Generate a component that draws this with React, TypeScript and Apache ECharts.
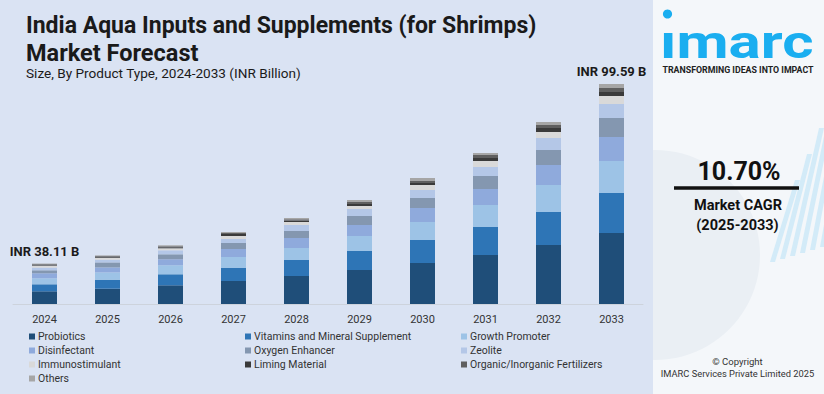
import React, { useEffect, useRef } from "react";
import * as echarts from "echarts";

const years = ["2024", "2025", "2026", "2027", "2028", "2029", "2030", "2031", "2032", "2033"];

const seriesNames = [
  "Probiotics",
  "Vitamins and Mineral Supplement",
  "Growth Promoter",
  "Disinfectant",
  "Oxygen Enhancer",
  "Zeolite",
  "Immunostimulant",
  "Liming Material",
  "Organic/Inorganic Fertilizers",
  "Others",
];

const seriesColors = [
  "#1f4e79",
  "#2e75b6",
  "#9dc3e6",
  "#8faadc",
  "#8497b0",
  "#b4c7e7",
  "#d9d9d9",
  "#3a3a3a",
  "#5f5f5f",
  "#a6a6a6",
];

const probiotics = [5.75, 6.93, 8.47, 10.41, 12.68, 15.39, 18.56, 22.18, 26.71, 32.14];
const vitamins = [3.17, 4.07, 4.98, 5.88, 7.24, 8.6, 10.41, 12.68, 14.94, 18.11];
const growthPromoter = [2.72, 3.3, 4.07, 4.98, 5.43, 6.79, 8.15, 9.96, 12.22, 14.49];
const disinfectant = [2.26, 2.26, 2.72, 3.62, 4.53, 4.98, 6.34, 7.24, 9.05, 10.86];
const oxygenEnhancer = [1.36, 2.26, 2.26, 2.72, 3.17, 4.07, 4.53, 5.88, 6.79, 8.6];
const zeolite = [1.22, 1.22, 1.81, 1.81, 2.72, 3.17, 3.62, 4.07, 5.43, 6.34];
const immunostimulant = [0.91, 0.91, 0.91, 1.36, 1.36, 1.36, 2.26, 2.72, 2.72, 3.62];
const limingMaterial = [0.32, 0.36, 0.45, 0.91, 0.63, 0.91, 0.91, 1.36, 1.81, 1.81];
const fertilizers = [0.32, 0.36, 0.45, 0.45, 0.59, 0.91, 0.91, 1.36, 1.36, 1.81];
const others = [0.27, 0.32, 0.45, 0.45, 0.59, 0.91, 1.36, 0.91, 1.36, 1.81];

const totalLabels = ["INR 38.11 B", "", "", "", "", "", "", "", "", "INR 99.59 B"];

const seriesData = [
  probiotics,
  vitamins,
  growthPromoter,
  disinfectant,
  oxygenEnhancer,
  zeolite,
  immunostimulant,
  limingMaterial,
  fertilizers,
  others,
];

const legendColumns = [
  ["Probiotics", "Disinfectant", "Immunostimulant", "Others"],
  ["Vitamins and Mineral Supplement", "Oxygen Enhancer", "Liming Material"],
  ["Growth Promoter", "Zeolite", "Organic/Inorganic Fertilizers"],
];

const title1 = "India Aqua Inputs and Supplements (for Shrimps)";
const title2 = "Market Forecast";
const subtitle = "Size, By Product Type, 2024-2033 (INR Billion)";
const cagrValue = "10.70%";
const cagrLabel = "Market CAGR";
const cagrPeriod = "(2025-2033)";

const SANS = "Roboto, 'Liberation Sans', Arial, sans-serif";

export default function App() {
  const ref = useRef<HTMLDivElement>(null);

  useEffect(() => {
    if (!ref.current) return;
    const chart = echarts.init(ref.current, null, { renderer: "svg" });

    const legendLefts = [29, 245, 461];

    const series: any[] = seriesNames.map((name, i) => ({
      name,
      type: "bar",
      stack: "total",
      data: seriesData[i],
      barWidth: 25,
      itemStyle: { color: seriesColors[i] },
      emphasis: { disabled: true },
      label:
        i === seriesNames.length - 1
          ? {
              show: true,
              position: "top",
              distance: 6,
              formatter: (p: any) => totalLabels[p.dataIndex],
              fontFamily: SANS,
              fontWeight: "bold",
              fontSize: 13,
              color: "#1a1a1a",
            }
          : { show: false },
    }));

    const decoBars = [0, 1, 2, 3, 4, 5].map((k) => ({
      type: "polygon",
      z: 1,
      silent: true,
      shape: {
        points: [
          [770 + k * 10, 262 - k * 3],
          [775 + k * 10, 262 - k * 3],
          [800 + k * 12, 180 - k * 26],
          [795 + k * 12, 180 - k * 26],
        ],
      },
      style: { fill: "#d3ebf8" },
    }));

    const option: any = {
      animation: false,
      backgroundColor: "#f4f7fa",
      grid: { left: 13, width: 630, top: 84, bottom: 90, containLabel: false },
      xAxis: {
        type: "category",
        data: years,
        axisLine: { show: true, lineStyle: { color: "#cdd3dc", width: 1 } },
        axisTick: { show: false },
        axisLabel: { color: "#333", fontFamily: SANS, fontSize: 11, margin: 10 },
      },
      yAxis: {
        type: "value",
        min: 0,
        max: 99.59,
        show: false,
        splitLine: { show: false },
      },
      legend: legendColumns.map((col, ci) => ({
        data: col,
        orient: "vertical",
        left: legendLefts[ci],
        top: 330,
        padding: 0,
        itemWidth: 6,
        itemHeight: 6,
        itemGap: 1,
        icon: "rect",
        selectedMode: false,
        textStyle: {
          fontFamily: SANS,
          fontSize: 10.5,
          color: "#333",
          lineHeight: 13,
          padding: [0, 0, 0, -2],
        },
      })),
      graphic: [
        {
          type: "circle",
          z: -6,
          silent: true,
          shape: { cx: 655, cy: 255, r: 105 },
          style: { fill: "#eaeff4" },
        },
        ...decoBars,
        {
          type: "rect",
          z: -5,
          silent: true,
          shape: { x: 0, y: 0, width: 653, height: 394 },
          style: { fill: "#dae3f3" },
        },
        {
          type: "text",
          z: 10,
          x: 26,
          y: 25.3,
          style: {
            text: title1,
            fontFamily: SANS,
            fontWeight: "bold",
            fontSize: 23,
            fill: "#1a1a1a",
            align: "left",
            verticalAlign: "middle",
          },
        },
        {
          type: "text",
          z: 10,
          x: 26,
          y: 53.3,
          style: {
            text: title2,
            fontFamily: SANS,
            fontWeight: "bold",
            fontSize: 23.5,
            fill: "#1a1a1a",
            align: "left",
            verticalAlign: "middle",
          },
        },
        {
          type: "text",
          z: 10,
          x: 26,
          y: 73,
          style: {
            text: subtitle,
            fontFamily: SANS,
            fontSize: 13.6,
            fill: "#1a1a1a",
            align: "left",
            verticalAlign: "middle",
          },
        },
        // logo
        {
          type: "circle",
          z: 10,
          shape: { cx: 667.5, cy: 14, r: 4.6 },
          style: { fill: "#1aaef0" },
        },
        {
          type: "text",
          z: 10,
          x: 660,
          y: 42,
          scaleX: 1.28,
          style: {
            text: "\u0131marc",
            fontFamily: SANS,
            fontWeight: "bold",
            fontSize: 47,
            fill: "#1aaef0",
            align: "left",
            verticalAlign: "middle",
          },
        },
        {
          type: "text",
          z: 10,
          x: 738,
          y: 70,
          style: {
            text: "TRANSFORMING IDEAS INTO IMPACT",
            fontFamily: SANS,
            fontWeight: "bold",
            fontSize: 8.8,
            fill: "#222",
            align: "center",
            verticalAlign: "middle",
          },
        },
        {
          type: "text",
          z: 10,
          x: 739,
          y: 171,
          style: {
            text: cagrValue,
            fontFamily: SANS,
            fontWeight: "bold",
            fontSize: 25,
            fill: "#111",
            align: "center",
            verticalAlign: "middle",
          },
        },
        {
          type: "line",
          z: 10,
          shape: { x1: 674, y1: 188, x2: 799, y2: 188 },
          style: { stroke: "#111", lineWidth: 3.5 },
        },
        {
          type: "text",
          z: 10,
          x: 738,
          y: 205.5,
          style: {
            text: cagrLabel,
            fontFamily: SANS,
            fontWeight: "bold",
            fontSize: 14.5,
            fill: "#111",
            align: "center",
            verticalAlign: "middle",
          },
        },
        {
          type: "text",
          z: 10,
          x: 737.5,
          y: 225,
          style: {
            text: cagrPeriod,
            fontFamily: SANS,
            fontWeight: "bold",
            fontSize: 14.5,
            fill: "#111",
            align: "center",
            verticalAlign: "middle",
          },
        },
        {
          type: "text",
          z: 10,
          x: 737.5,
          y: 361,
          style: {
            text: "\u00a9 Copyright",
            fontFamily: SANS,
            fontSize: 9.5,
            fill: "#333",
            align: "center",
            verticalAlign: "middle",
          },
        },
        {
          type: "text",
          z: 10,
          x: 737.5,
          y: 373.5,
          style: {
            text: "IMARC Services Private Limited 2025",
            fontFamily: SANS,
            fontSize: 9.3,
            fill: "#333",
            align: "center",
            verticalAlign: "middle",
          },
        },
      ],
      series,
    };

    chart.setOption(option);
    return () => chart.dispose();
  }, []);

  return (
    <div
      ref={ref}
      style={{ position: "fixed", left: 0, top: 0, width: 824, height: 394 }}
    />
  );
}
